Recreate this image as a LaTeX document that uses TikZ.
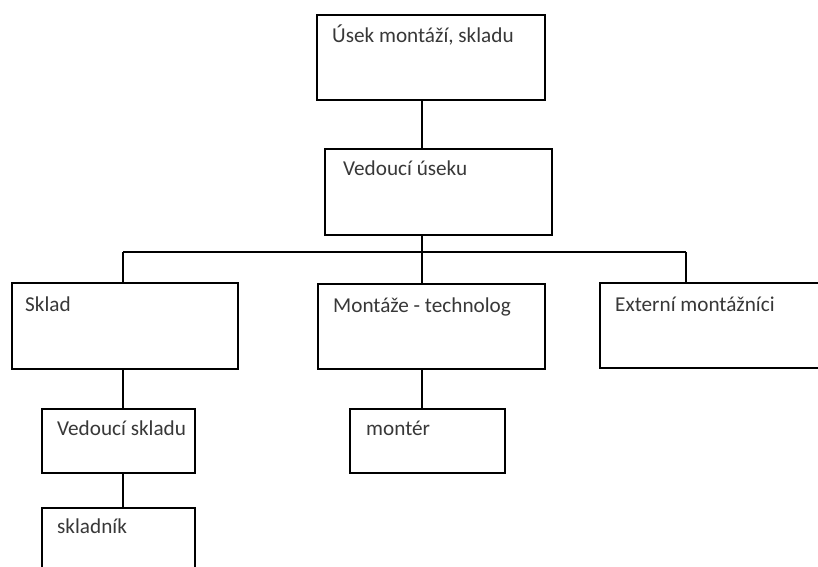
\documentclass[tikz,border=0pt]{standalone}
\usepackage{fontspec}
\setmainfont{Carlito}
\usetikzlibrary{calc}
\begin{document}
\begin{tikzpicture}[x=1pt,y=1pt,
  box/.style={draw=black, line width=1.7pt, fill=white, anchor=north west, inner sep=0pt},
  lbl/.style={anchor=base west, inner sep=0pt, text=black!78, font=\fontsize{21.2}{25}\selectfont},
  wire/.style={draw=black, line width=1.7pt}]
\useasboundingbox (0,0) rectangle (818,-566);
\clip (0,0) rectangle (818,-566);
\fill[white] (0,0) rectangle (818,-566);

% trunk and branch coordinates
\coordinate (trunk) at (422,-252);
\coordinate (left) at (123,-252);
\coordinate (right) at (686,-252);

% horizontal bus
\draw[wire] (left) -- (right);

% boxes
\node[box, minimum width=228, minimum height=85] (usek) at (316,-14) {};
\node[box, minimum width=227, minimum height=86] (vedu) at (324,-148) {};
\node[box, minimum width=226, minimum height=86] (sklad) at (11,-282) {};
\node[box, minimum width=227, minimum height=85] (mont) at (317,-283) {};
\node[box, minimum width=230, minimum height=85] (ext) at (599,-282) {};
\node[box, minimum width=153, minimum height=64] (vsk) at (41,-408) {};
\node[box, minimum width=153, minimum height=70] (skn) at (41,-507) {};
\node[box, minimum width=155, minimum height=64] (monter) at (349,-408) {};

% vertical connectors
\draw[wire] (trunk |- usek.south) -- (trunk |- vedu.north);
\draw[wire] (trunk |- vedu.south) -- (trunk);
\draw[wire] (left) -- (left |- sklad.north);
\draw[wire] (trunk) -- (trunk |- mont.north);
\draw[wire] (right) -- (right |- ext.north);
\draw[wire] (left |- sklad.south) -- (left |- vsk.north);
\draw[wire] (left |- vsk.south) -- (left |- skn.north);
\draw[wire] (trunk |- mont.south) -- (trunk |- monter.north);

% labels
\node[lbl] at ($(usek.north west)+(16,-28)$) {Úsek montáží, skladu};
\node[lbl] at ($(vedu.north west)+(19,-27)$) {Vedoucí úseku};
\node[lbl] at ($(sklad.north west)+(14,-29)$) {Sklad};
\node[lbl] at ($(mont.north west)+(16,-29)$) {Montáže - technolog};
\node[lbl] at ($(ext.north west)+(16,-29)$) {Externí montážníci};
\node[lbl] at ($(vsk.north west)+(16,-27)$) {Vedoucí skladu};
\node[lbl] at ($(monter.north west)+(17,-27)$) {montér};
\node[lbl] at ($(skn.north west)+(16,-26)$) {skladník};
\end{tikzpicture}
\end{document}
